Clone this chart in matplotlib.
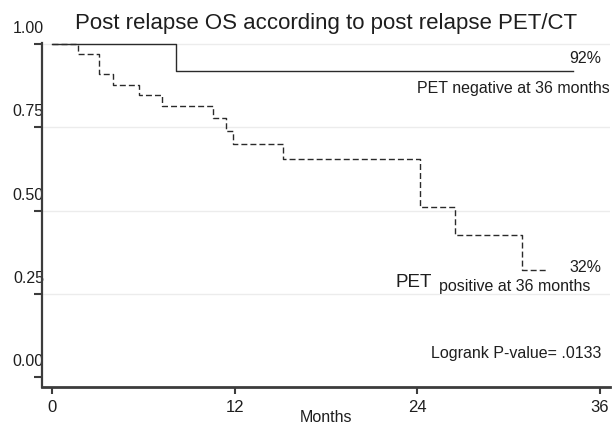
"""
Kaplan-Meier style chart: post relapse OS by post relapse PET/CT.
"""

import matplotlib
matplotlib.use("Agg")
import matplotlib.pyplot as plt
from matplotlib.transforms import ScaledTranslation


# PET negative group (solid line)
months_neg = [0, 8.15, 34.2]
surv_neg = [1.0, 0.92, 0.92]

# PET positive group (dashed line)
months_pos = [0, 1.73, 3.09, 4.03, 5.74, 7.25, 10.6, 11.4, 11.87, 15.2,
              24.2, 26.5, 30.9, 32.6]
surv_pos = [1.0, 0.970, 0.910, 0.877, 0.847, 0.814, 0.777, 0.740, 0.701,
            0.656, 0.511, 0.426, 0.321, 0.321]

x_ticks = [0, 12, 24, 36]
y_ticks = [0.0, 0.25, 0.5, 0.75, 1.0]
y_labels = ["0.00", "0.25", "0.50", "0.75", "1.00"]

title = "Post relapse OS according to post relapse PET/CT"
TXT = "#1e1e1e"
AXC = "#3c3c3c"


def main():
    plt.rcParams['font.family'] = ['Liberation Sans', 'DejaVu Sans']

    fig = plt.figure(figsize=(6.16, 4.26), dpi=100)
    ax = fig.add_axes([42 / 616, 39 / 426, 568 / 616, 344 / 426])

    ax.step(months_neg, surv_neg, where='post', color='#2a2a2a', lw=1.0)
    ax.step(months_pos, surv_pos, where='post', color='#2a2a2a', lw=1.0,
            linestyle=(0, (4.3, 2.2)))

    ax.set_xlim(-0.66, 36.66)
    ax.set_ylim(-0.030, 1.003)

    # spines
    for side in ['top', 'right']:
        ax.spines[side].set_visible(False)
    ax.spines['left'].set_color(AXC)
    ax.spines['left'].set_linewidth(1.6)
    ax.spines['bottom'].set_color(AXC)
    ax.spines['bottom'].set_linewidth(2.0)

    # ticks
    ax.set_xticks(x_ticks)
    ax.set_xticklabels([str(t) for t in x_ticks])
    ax.set_yticks(y_ticks)
    ax.set_yticklabels(y_labels)
    ax.tick_params(axis='x', direction='out', length=5, width=1.5,
                   color=AXC, labelsize=12, labelcolor=TXT, pad=4)
    ax.tick_params(axis='y', direction='out', length=6, width=1.5,
                   color=AXC, labelsize=11.5, labelcolor=TXT, pad=2)

    # y labels sit above their ticks and overlap the spine
    shift = ScaledTranslation(0.13, 0.17, fig.dpi_scale_trans)
    for lab in ax.get_yticklabels():
        lab.set_transform(lab.get_transform() + shift)

    # grid
    ax.yaxis.grid(True, color='#ececec', lw=1.0)
    ax.yaxis.get_gridlines()[0].set_visible(False)
    ax.set_axisbelow(True)

    ax.set_title(title, fontsize=16, color=TXT, pad=10)
    ax.set_xlabel("Months", fontsize=11.5, color=TXT, labelpad=-3)

    # annotations
    ax.text(36.07, 0.955, "92%", ha='right', va='center', fontsize=11.5,
            color=TXT)
    ax.text(36.66, 0.865, "PET negative at 36 months", ha='right',
            va='center', fontsize=11.5, color=TXT)
    ax.text(36.07, 0.33, "32%", ha='right', va='center', fontsize=11.5,
            color=TXT)
    ax.text(24.97, 0.285, "PET", ha='right', va='center', fontsize=13.5,
            color=TXT)
    ax.text(35.35, 0.272, "positive at 36 months", ha='right',
            va='center', fontsize=11.5, color=TXT)
    ax.text(36.07, 0.072, "Logrank P-value= .0133", ha='right',
            va='center', fontsize=11.5, color=TXT)

    fig.savefig("out.png", dpi=100)


if __name__ == "__main__":
    main()
